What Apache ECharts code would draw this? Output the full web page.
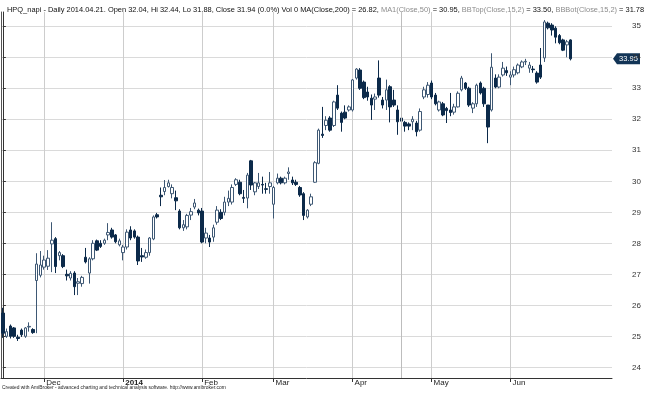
<!DOCTYPE html>
<html><head><meta charset="utf-8">
<script src="https://cdn.jsdelivr.net/npm/echarts@6/dist/echarts.min.js"></script>
<style>html,body{margin:0;padding:0;background:#fff}#c{width:645px;height:394px}</style>
</head><body><div id="c"></div>
<script>
// Trading dates (categories)
const dates = [
'2013-11-14','2013-11-15','2013-11-18','2013-11-19','2013-11-20','2013-11-21','2013-11-22','2013-11-25','2013-11-26','2013-11-27','2013-11-29',
'2013-12-02','2013-12-03','2013-12-04','2013-12-05','2013-12-06','2013-12-09','2013-12-10','2013-12-11','2013-12-12','2013-12-13','2013-12-16','2013-12-17','2013-12-18','2013-12-19','2013-12-20','2013-12-23','2013-12-24','2013-12-26','2013-12-27','2013-12-30','2013-12-31',
'2014-01-02','2014-01-03','2014-01-06','2014-01-07','2014-01-08','2014-01-09','2014-01-10','2014-01-13','2014-01-14','2014-01-15','2014-01-16','2014-01-17','2014-01-21','2014-01-22','2014-01-23','2014-01-24','2014-01-27','2014-01-28','2014-01-29','2014-01-30','2014-01-31',
'2014-02-03','2014-02-04','2014-02-05','2014-02-06','2014-02-07','2014-02-10','2014-02-11','2014-02-12','2014-02-13','2014-02-14','2014-02-18','2014-02-19','2014-02-20','2014-02-21','2014-02-24','2014-02-25','2014-02-26','2014-02-27','2014-02-28',
'2014-03-03','2014-03-04','2014-03-05','2014-03-06','2014-03-07','2014-03-10','2014-03-11','2014-03-12','2014-03-13','2014-03-14','2014-03-17','2014-03-18','2014-03-19','2014-03-20','2014-03-21','2014-03-24','2014-03-25','2014-03-26','2014-03-27','2014-03-28','2014-03-31',
'2014-04-01','2014-04-02','2014-04-03','2014-04-04','2014-04-07','2014-04-08','2014-04-09','2014-04-10','2014-04-11','2014-04-14','2014-04-15','2014-04-16','2014-04-17','2014-04-21','2014-04-22','2014-04-23','2014-04-24','2014-04-25','2014-04-28','2014-04-29','2014-04-30',
'2014-05-01','2014-05-02','2014-05-05','2014-05-06','2014-05-07','2014-05-08','2014-05-09','2014-05-12','2014-05-13','2014-05-14','2014-05-15','2014-05-16','2014-05-19','2014-05-20','2014-05-21','2014-05-22','2014-05-23','2014-05-27','2014-05-28','2014-05-29','2014-05-30',
'2014-06-02','2014-06-03','2014-06-04','2014-06-05','2014-06-06','2014-06-09','2014-06-10','2014-06-11','2014-06-12','2014-06-13','2014-06-16','2014-06-17','2014-06-18','2014-06-19','2014-06-20','2014-06-23','2014-06-24'
];
const open = [
25.75,25.00,25.33,25.27,24.97,25.20,25.00,25.30,25.22,26.80,26.97,
27.23,27.26,27.98,28.15,27.60,27.60,27.00,26.88,27.04,26.71,26.70,27.55,27.04,27.50,28.08,28.00,28.00,28.27,28.43,28.27,27.95,
27.70,27.88,28.43,28.40,28.20,27.60,27.55,27.70,28.14,28.92,29.55,29.67,29.83,29.60,29.47,29.04,28.50,28.53,28.91,29.17,29.07,
29.04,28.17,28.17,28.20,28.68,29.00,29.00,29.33,29.33,29.90,29.97,29.48,29.46,30.66,29.66,29.83,29.90,29.76,29.83,
29.26,29.95,30.10,29.95,30.25,30.04,29.97,29.80,29.60,28.85,29.26,29.97,30.58,31.52,31.80,32.04,31.80,32.78,32.20,32.23,32.30,
32.30,33.33,33.59,33.20,32.88,32.68,32.65,33.33,32.62,32.62,33.05,32.62,32.30,32.04,31.90,31.85,31.92,31.88,31.65,32.72,32.80,
33.17,32.78,32.30,32.50,32.35,32.30,32.23,32.40,32.95,33.17,33.00,32.36,32.50,33.17,33.00,32.46,32.30,33.33,33.04,33.43,33.57,
33.36,33.43,33.50,33.69,33.85,33.65,33.62,33.49,33.75,33.98,35.10,35.04,34.94,34.70,34.56,34.40,34.56
];
const close = [
25.10,25.15,25.00,25.00,24.93,25.05,25.27,25.32,25.12,27.33,27.30,
27.46,27.52,28.10,27.25,27.70,27.25,26.95,27.03,26.60,26.76,26.90,27.40,27.50,28.00,27.78,27.90,28.10,28.35,28.20,28.05,28.08,
27.88,28.36,28.17,28.20,27.43,27.56,27.70,28.17,28.85,28.85,29.50,29.80,29.95,29.80,29.37,28.50,28.60,28.90,29.02,29.30,28.98,
28.04,28.33,28.04,28.50,29.07,28.80,29.33,29.45,29.80,30.05,29.60,29.45,30.20,29.88,29.95,29.95,29.88,29.74,29.95,
29.80,30.10,29.95,30.10,30.30,29.95,29.90,29.56,28.90,29.07,29.50,30.60,31.65,31.48,31.97,31.65,32.56,32.36,31.90,32.04,32.40,
33.27,33.62,33.00,32.70,32.72,32.46,32.72,32.78,32.46,32.95,32.40,32.46,31.92,31.94,31.78,31.78,32.00,31.60,32.25,32.95,33.10,
32.72,32.50,32.56,32.14,32.28,32.22,32.40,32.84,33.33,33.00,32.46,32.50,33.10,32.85,32.50,31.75,33.68,33.04,33.36,33.65,33.50,
33.43,33.60,33.75,33.85,33.87,33.75,33.60,33.20,33.36,35.14,34.95,34.88,34.65,34.47,34.23,34.50,33.95
];
const low = [
24.95,24.95,24.93,24.95,24.85,24.98,24.95,25.15,25.08,25.10,26.90,
27.15,27.14,27.07,27.04,27.45,27.20,26.80,26.80,26.33,26.33,26.60,27.35,26.70,27.45,27.75,27.85,27.95,28.10,28.15,28.00,27.90,
27.45,27.80,28.10,28.15,27.30,27.40,27.50,27.60,28.10,28.80,29.20,29.55,29.80,29.45,29.07,28.45,28.40,28.45,28.75,29.10,28.90,
28.00,28.00,27.88,28.05,28.60,28.75,28.90,29.20,29.25,29.85,29.55,29.30,29.13,29.72,29.55,29.75,29.60,29.60,29.60,
28.80,29.90,29.90,29.90,30.05,29.88,29.85,29.50,28.75,28.80,29.20,29.95,30.55,31.40,31.65,31.60,31.75,32.30,31.60,32.00,32.25,
32.25,33.28,32.95,32.65,32.60,31.98,32.30,32.70,32.35,32.30,31.90,32.40,31.50,31.88,31.60,31.65,31.65,31.45,31.60,32.65,32.70,
32.65,32.45,32.25,32.10,31.88,32.10,32.15,32.38,32.90,32.95,32.40,32.20,32.40,32.80,32.40,31.23,32.25,33.00,33.00,33.38,33.40,
33.10,33.35,33.45,33.65,33.75,33.50,33.50,33.15,33.30,33.85,34.90,34.70,34.45,34.42,34.20,34.00,33.90
];
const high = [
25.92,25.25,25.38,25.30,25.05,25.25,25.30,25.45,25.26,27.68,27.75,
27.60,27.78,28.68,28.20,27.75,27.65,27.15,27.10,27.10,26.88,26.95,27.85,27.55,28.10,28.12,28.10,28.15,28.65,28.50,28.30,28.15,
27.95,28.45,28.55,28.45,28.25,27.85,27.80,28.20,28.90,28.98,29.80,30.04,30.05,29.90,29.70,29.10,28.75,28.95,29.14,29.43,29.12,
29.14,28.50,28.27,28.60,29.20,29.10,29.50,29.70,29.90,30.10,30.05,29.72,30.27,30.69,29.98,30.27,30.15,29.95,30.30,
29.85,30.25,30.15,30.15,30.45,30.15,30.05,29.85,29.65,29.10,29.60,30.65,31.70,32.40,32.10,32.10,32.60,33.10,32.25,32.45,32.45,
33.30,33.65,33.65,33.25,33.05,32.80,32.83,33.90,32.72,33.28,33.10,32.95,32.45,32.44,31.95,31.90,32.10,31.95,32.35,33.05,33.20,
33.25,32.85,32.60,32.56,32.40,32.85,32.50,32.90,33.40,33.20,33.05,32.55,33.15,33.22,33.05,32.46,34.13,33.45,33.45,33.85,33.70,
33.55,33.70,33.80,33.90,33.95,33.85,33.72,33.55,34.30,35.20,35.15,35.10,35.00,34.75,34.60,34.56,34.58
];
// Axis ticks
const yTicks = [24,25,26,27,28,29,30,31,32,33,34,35];
const xTickDates = ['2013-12-02','2014-01-02','2014-02-03','2014-03-03','2014-04-01','2014-05-01','2014-06-02'];
const xTickLabels = ['Dec','2014','Feb','Mar','Apr','May','Jun'];
const selectedDate = '2014-04-21';

const sel = dates.indexOf(selectedDate);
const tickIdx = xTickDates.map(d => dates.indexOf(d));
const candleData = dates.map((d, i) => [i, open[i], close[i], low[i], high[i]]);
const f2 = v => v.toFixed(2);
const pct = ((close[sel] - close[sel]) / close[sel] * 100).toFixed(1);

const YMIN = 23.655, YMAX = 35.461;
const FONT = 'Liberation Sans';

const chart = echarts.init(document.getElementById('c'), null, {renderer: 'canvas'});
chart.setOption({
  animation: false,
  backgroundColor: '#ffffff',
  title: {
    left: 2, top: 1,
    text: '{b|HPQ_napi - Daily ' + selectedDate.replace(/-/g, '.') + '. Open ' + f2(open[sel]) + ', Hi ' + f2(high[sel]) +
          ', Lo ' + f2(low[sel]) + ', Close ' + f2(close[sel]) + ' (' + pct + '%) Vol 0 MA(Close,200) = 26.82, }' +
          '{g|MA1(Close,50)}{b| = 30.95, }{g|BBTop(Close,15,2)}{b| = 33.50, }{g|BBBot(Close,15,2)}{b| = 31.78}',
    textStyle: {
      fontFamily: FONT, fontSize: 7.45, fontWeight: 'normal',
      rich: {
        b: {color: '#111', fontFamily: FONT, fontSize: 7.45},
        g: {color: '#8c8c8c', fontFamily: FONT, fontSize: 7.45}
      }
    }
  },
  grid: {left: 1, right: 33, top: 12, bottom: 16, containLabel: false},
  xAxis: {
    type: 'value', min: -0.5, max: 162,
    axisLine: {show: true, onZero: false, lineStyle: {color: '#333', width: 1}},
    axisTick: {show: true, customValues: tickIdx, length: 4, lineStyle: {color: '#333'}},
    axisLabel: {
      customValues: tickIdx, align: 'left', margin: 1, padding: [0, 0, 0, 2],
      fontFamily: FONT, fontSize: 8, color: '#222',
      formatter: v => {
        const k = tickIdx.indexOf(Math.round(v));
        if (k < 0) return '';
        const t = xTickLabels[k];
        return /^\d{4}$/.test(t) ? '{y|' + t + '}' : t;
      },
      rich: {y: {fontWeight: 'bold', fontFamily: FONT, fontSize: 8, color: '#222'}}
    },
    splitLine: {show: true, lineStyle: {color: '#cdcdcd', width: 1}}
  },
  yAxis: [{
    type: 'value', position: 'right', min: YMIN, max: YMAX,
    axisLine: {show: true, lineStyle: {color: '#333', width: 1}},
    axisTick: {show: true, customValues: yTicks, length: 3, lineStyle: {color: '#333'}},
    axisLabel: {customValues: yTicks, align: 'right', margin: 29, fontFamily: FONT, fontSize: 8, color: '#333'},
    splitLine: {show: true, lineStyle: {color: '#dadada', width: 1}}
  }, {
    type: 'value', position: 'left', min: YMIN, max: YMAX,
    axisLine: {show: true, lineStyle: {color: '#555', width: 1}},
    axisTick: {show: false}, axisLabel: {show: false}, splitLine: {show: false}
  }],
  series: [{
    type: 'candlestick',
    data: candleData,
    encode: {x: 0, y: [1, 2, 3, 4]},
    barWidth: 3,
    itemStyle: {
      color: '#ffffff', color0: '#0c2a4a',
      borderColor: '#3e5874', borderColor0: '#0c2a4a', borderWidth: 1
    },
    markLine: {
      silent: true, symbol: 'none', animation: false,
      label: {show: false},
      lineStyle: {color: '#bdbdbd', type: 'solid', width: 1},
      data: [{xAxis: sel}]
    }
  }]
});

// last-price marker on the price axis
const last = close.length - 1;
const py = chart.convertToPixel({yAxisIndex: 0}, close[last]);
const ax = chart.convertToPixel({xAxisIndex: 0}, 162);
const h = 5.5;
chart.setOption({
  graphic: [
    {type: 'polygon', silent: true,
     shape: {points: [[ax + 1, py], [ax + 5, py - h], [ax + 28, py - h], [ax + 28, py + h], [ax + 5, py + h]]},
     style: {fill: '#123456'}},
    {type: 'text', silent: true, x: ax + 16.5, y: py,
     style: {text: f2(close[last]), fill: '#ffffff', font: '7.5px "Liberation Sans"', align: 'center', verticalAlign: 'middle'}},
    {type: 'text', silent: true, left: 2, top: 385,
     style: {text: 'Created with AmiBroker - advanced charting and technical analysis software. http://www.amibroker.com',
             fill: '#222', font: '4.9px "Liberation Sans"'}}
  ]
});
</script>
</body></html>
